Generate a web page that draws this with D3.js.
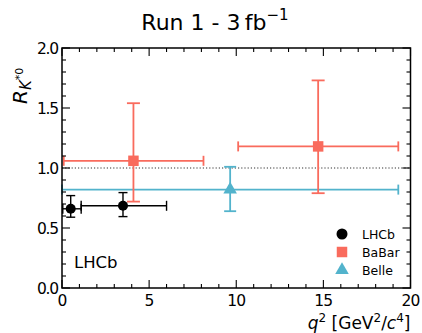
<!DOCTYPE html>
<html><head><meta charset="utf-8">
<script src="https://cdn.jsdelivr.net/npm/d3@7"></script>
<style>body{margin:0;background:#fff}svg{display:block}text{font-family:"DejaVu Sans",sans-serif}</style>
</head><body><svg id="c" width="422" height="333"></svg>
<script>
// data: [center, xlo, xhi, value, errDown, errUp]
const lhcb = [
  {x:0.5, xlo:0.045, xhi:1.1, y:0.66, dn:0.07, up:0.11},
  {x:3.5, xlo:1.1, xhi:6.0, y:0.685, dn:0.09, up:0.11}
];
const babar = [
  {x:4.1, xlo:0.1, xhi:8.12, y:1.06, dn:0.34, up:0.48},
  {x:14.7, xlo:10.11, xhi:19.3, y:1.18, dn:0.39, up:0.55}
];
const belle = [
  {x:9.65, xlo:0.0, xhi:19.3, y:0.82, dn:0.18, up:0.19}
];
const xTicks = [0,5,10,15,20];
const yTicks = [0.0,0.5,1.0,1.5,2.0];
const legendNames = ["LHCb","BaBar","Belle"];
const colors = {LHCb:"#000000", BaBar:"#f96b5d", Belle:"#52b3cc"};

const svg = d3.select("#c");
const L=62, R=410.5, T=48, B=288;
const x = d3.scaleLinear().domain([0,20]).range([L,R]);
const y = d3.scaleLinear().domain([0,2]).range([B,T]);

// reference line
svg.append("line").attr("x1",L).attr("x2",R).attr("y1",y(1)).attr("y2",y(1))
  .attr("stroke","#333").attr("stroke-width",1.2).attr("stroke-dasharray","1.2,2");

function errbars(data, col, capx, capy, sw){
  const g = svg.append("g").attr("stroke",col).attr("stroke-width",sw).attr("fill","none");
  data.forEach(d=>{
    g.append("line").attr("x1",x(d.xlo)).attr("x2",x(d.xhi)).attr("y1",y(d.y)).attr("y2",y(d.y));
    g.append("line").attr("x1",x(d.x)).attr("x2",x(d.x)).attr("y1",y(d.y-d.dn)).attr("y2",y(d.y+d.up));
    [d.xlo,d.xhi].forEach(v=>g.append("line").attr("x1",x(v)).attr("x2",x(v)).attr("y1",y(d.y)-capx).attr("y2",y(d.y)+capx));
    [d.y-d.dn,d.y+d.up].forEach(v=>g.append("line").attr("x1",x(d.x)-capy).attr("x2",x(d.x)+capy).attr("y1",y(v)).attr("y2",y(v)));
  });
  return g;
}
errbars(belle, colors.Belle, 5, 6, 1.8);
errbars(babar, colors.BaBar, 5, 6.5, 1.8);
errbars(lhcb, colors.LHCb, 5, 4.5, 1.4);

const tri = d3.symbol().type(d3.symbolTriangle).size(80);
const sq = d3.symbol().type(d3.symbolSquare).size(110);
svg.selectAll(".belle").data(belle).join("path").attr("d",tri)
  .attr("transform",d=>`translate(${x(d.x)},${y(d.y)})`).attr("fill",colors.Belle);
svg.selectAll(".babar").data(babar).join("path").attr("d",sq)
  .attr("transform",d=>`translate(${x(d.x)},${y(d.y)})`).attr("fill",colors.BaBar);
svg.selectAll(".lhcb").data(lhcb).join("circle").attr("cx",d=>x(d.x)).attr("cy",d=>y(d.y))
  .attr("r",5).attr("fill",colors.LHCb);

// frame
svg.append("rect").attr("x",L).attr("y",T).attr("width",R-L).attr("height",B-T)
  .attr("fill","none").attr("stroke","#000").attr("stroke-width",1.5);

// ticks (inward, all sides)
const tk = svg.append("g").attr("stroke","#000").attr("stroke-width",1.1);
for(let i=0;i<=20;i++){
  const len = i%5===0?8:4, px=x(i);
  tk.append("line").attr("x1",px).attr("x2",px).attr("y1",B).attr("y2",B-len);
  tk.append("line").attr("x1",px).attr("x2",px).attr("y1",T).attr("y2",T+len);
}
for(let i=0;i<=20;i++){
  const len = i%5===0?8:4, py=y(i/10);
  tk.append("line").attr("x1",L).attr("x2",L+len).attr("y1",py).attr("y2",py);
  tk.append("line").attr("x1",R).attr("x2",R-len).attr("y1",py).attr("y2",py);
}
svg.selectAll(".xt").data(xTicks).join("text").attr("x",d=>x(d)).attr("y",B+18)
  .attr("text-anchor","middle").attr("font-size",15.5).attr("letter-spacing","-0.8").text(d=>d);
svg.selectAll(".yt").data(yTicks).join("text").attr("x",L-4).attr("y",d=>y(d)+5.5)
  .attr("text-anchor","end").attr("font-size",15.5).attr("letter-spacing","-1.2").text(d=>d.toFixed(1));

// title
const tt = svg.append("text").attr("x",215).attr("y",30).attr("text-anchor","middle").attr("font-size",22);
tt.append("tspan").text("Run 1 - 3\u2009fb");
tt.append("tspan").attr("font-size",15).attr("dy",-10).text("\u22121");

// y label
const yl = svg.append("text").attr("transform","translate(27,104) rotate(-90)").attr("font-size",20);
yl.append("tspan").attr("font-style","italic").text("R");
yl.append("tspan").attr("font-style","italic").attr("font-size",15).attr("dy",4).text("K");
yl.append("tspan").attr("font-size",11).attr("dy",-8).text("*0");

// x label
const xl = svg.append("text").attr("x",R).attr("y",329).attr("text-anchor","end").attr("font-size",17);
xl.append("tspan").attr("font-style","italic").text("q");
xl.append("tspan").attr("font-size",12).attr("dy",-7).text("2");
xl.append("tspan").attr("dy",7).text(" [GeV");
xl.append("tspan").attr("font-size",12).attr("dy",-7).text("2");
xl.append("tspan").attr("dy",7).text("/");
xl.append("tspan").attr("font-style","italic").text("c");
xl.append("tspan").attr("font-size",12).attr("dy",-7).text("4");
xl.append("tspan").attr("dy",7).text("]");

// LHCb label
svg.append("text").attr("x",74).attr("y",268).attr("font-size",16.5).text("LHCb");

// legend
const lg = svg.append("g");
legendNames.forEach((n,i)=>{
  const ly = 234 + i*18;
  if(n==="LHCb") lg.append("circle").attr("cx",342).attr("cy",ly).attr("r",5.5).attr("fill",colors[n]);
  else lg.append("path").attr("d",(n==="BaBar"?sq:tri)).attr("transform",`translate(342,${ly})`).attr("fill",colors[n]);
  lg.append("text").attr("x",362).attr("y",ly+4.5).attr("font-size",12.5).text(n);
});
</script></body></html>
